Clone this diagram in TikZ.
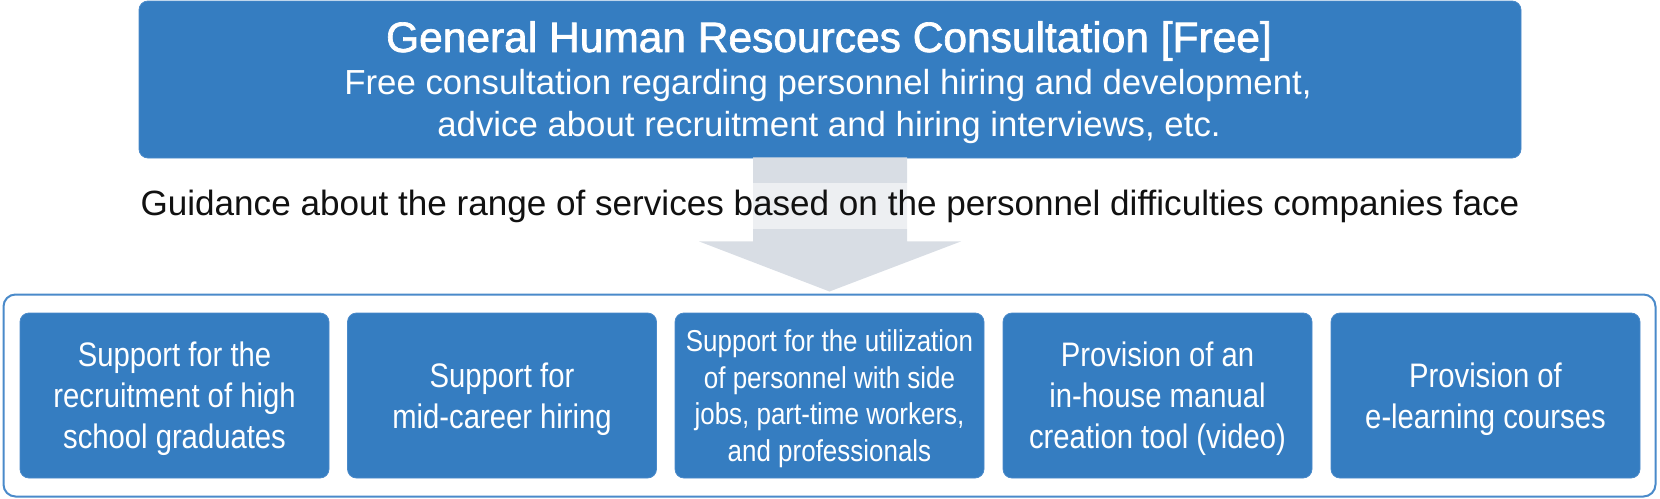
\documentclass[tikz,border=0pt]{standalone}
\usepackage{fontspec}
\setmainfont{Liberation Sans}
\newfontfamily\boxfamily[FakeStretch=0.86]{Liberation Sans}
\newfontfamily\titlefamily[FakeBold=1.6]{Liberation Sans}
\definecolor{boxblue}{HTML}{357DC1}
\definecolor{edgeblue}{HTML}{4A8ACA}
\definecolor{arrowgray}{HTML}{D8DDE4}
\definecolor{textblack}{HTML}{111111}
\begin{document}
\begin{tikzpicture}[x=1pt,y=-1pt,
  bluebox/.style={fill=boxblue, draw=edgeblue, line width=0.8pt, rounded corners=9pt, text=white, align=center, inner sep=0pt},
  svc/.style={bluebox, minimum width=309pt, minimum height=165pt, text depth=0pt, font=\boxfamily\fontsize{34}{41}\selectfont},
  svcsmall/.style={svc, font=\boxfamily\fontsize{30.2}{36.7}\selectfont},
  toptext/.style={anchor=base, text=white, inner sep=0pt}
]
\useasboundingbox (0,0) rectangle (1660,498);

% outer frame
\node[draw=edgeblue, line width=2pt, rounded corners=12pt, fill=white, minimum width=1652pt, minimum height=202pt, inner sep=0pt] (outer) at (829.5,395.5) {};

% top box
\node[bluebox, minimum width=1382pt, minimum height=157pt] (top) at (830,79.5) {};

% big arrow from the top box to the frame
\fill[arrowgray] ([xshift=-77pt,yshift=1pt]top.south) -- ([xshift=77pt,yshift=1pt]top.south)
  -- ([xshift=77pt,yshift=-83pt]top.south) -- ([xshift=131pt,yshift=-83pt]top.south)
  -- ([yshift=2pt]outer.north) -- ([xshift=-131pt,yshift=-83pt]top.south)
  -- ([xshift=-77pt,yshift=-83pt]top.south) -- cycle;

% texts of top box
\node[toptext, font=\titlefamily\fontsize{42.5}{50}\selectfont] (title) at (829,52) {General Human Resources Consultation [Free]};
\node[toptext, font=\fontsize{34.8}{42}\selectfont] (sub1) at (828,94) {Free consultation regarding personnel hiring and development,};
\node[toptext, font=\fontsize{34.8}{42}\selectfont] (sub2) at (829,136) {advice about recruitment and hiring interviews, etc.};

% guidance line with translucent band
\node[fill=white, fill opacity=0.55, text opacity=1, text=textblack, inner sep=0pt, minimum width=1382pt, minimum height=46pt, font=\fontsize{35.1}{42}\selectfont] (guide) at (830,206) {Guidance about the range of services based on the personnel difficulties companies face};

% service boxes
\node[svc] (s1) at (174.5,395.5) {Support for the\\recruitment of high\\school graduates};
\node[svc] (s2) at (502,395.5) {Support for\\mid-career hiring};
\node[svcsmall] (s3) at (829.5,395.5) {Support for the utilization\\of personnel with side\\jobs, part-time workers,\\and professionals};
\node[svc] (s4) at (1157.5,395.5) {Provision of an\\in-house manual\\creation tool (video)};
\node[svc] (s5) at (1485.5,395.5) {Provision of\\e-learning courses};
\end{tikzpicture}
\end{document}
